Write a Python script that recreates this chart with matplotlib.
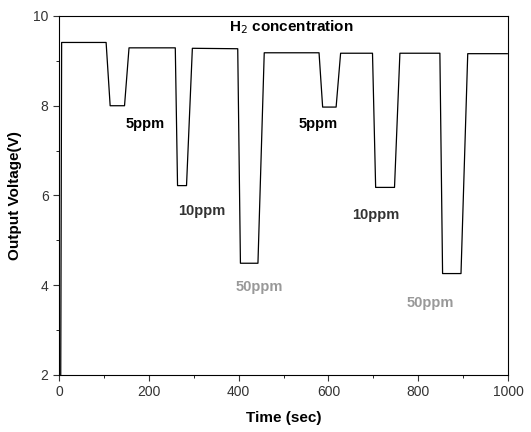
import numpy as np
import matplotlib
matplotlib.use("Agg")
import matplotlib.pyplot as plt
from matplotlib.ticker import MultipleLocator

plt.rcParams["font.family"] = ["Liberation Sans", "DejaVu Sans"]

# step response trace
time_s = [4, 6, 105, 114, 146, 156, 259, 264, 284, 297, 398, 404, 443, 457,
          579, 587, 617, 627, 698, 705, 747, 759, 848, 854, 895, 910, 998]
voltage = [2.0, 9.41, 9.41, 8.0, 8.0, 9.29, 9.29, 6.22, 6.22, 9.28, 9.27, 4.49, 4.49, 9.18,
           9.18, 7.97, 7.97, 9.17, 9.17, 6.18, 6.18, 9.17, 9.17, 4.26, 4.26, 9.16, 9.16]

labels = ["5ppm", "10ppm", "50ppm", "5ppm", "10ppm", "50ppm"]
label_x = [193, 318, 447, 578, 706, 826]
label_y = [7.59, 5.66, 3.96, 7.59, 5.57, 3.61]
label_colors = ["black", "#333333", "#999999", "black", "#333333", "#999999"]


def main():
    fig = plt.figure(figsize=(5.31, 4.32), dpi=100)
    ax = fig.add_axes([0.111, 0.132, 0.846, 0.831])
    ax.plot(time_s, voltage, color="black", lw=0.9)

    ax.set_xlim(0, 1000)
    ax.set_ylim(2, 10)
    ax.xaxis.set_major_locator(MultipleLocator(200))
    ax.xaxis.set_minor_locator(MultipleLocator(100))
    ax.yaxis.set_major_locator(MultipleLocator(2))
    ax.yaxis.set_minor_locator(MultipleLocator(1))
    ax.tick_params(which="major", direction="out", length=4, labelsize=10, colors="#333333")
    ax.tick_params(which="minor", direction="out", length=2.5)

    ax.set_xlabel("Time (sec)", fontsize=11, fontweight="bold", labelpad=8)
    ax.set_ylabel("Output Voltage(V)", fontsize=11, fontweight="bold", labelpad=8)

    ax.text(518, 9.75, "H$_2$ concentration", fontsize=11, fontweight="bold",
            ha="center", va="center")
    for x, y, s, c in zip(label_x, label_y, labels, label_colors):
        ax.text(x, y, s, fontsize=10.5, fontweight="bold",
                ha="center", va="center", color=c)

    fig.savefig("out.png", dpi=100)


if __name__ == "__main__":
    main()
